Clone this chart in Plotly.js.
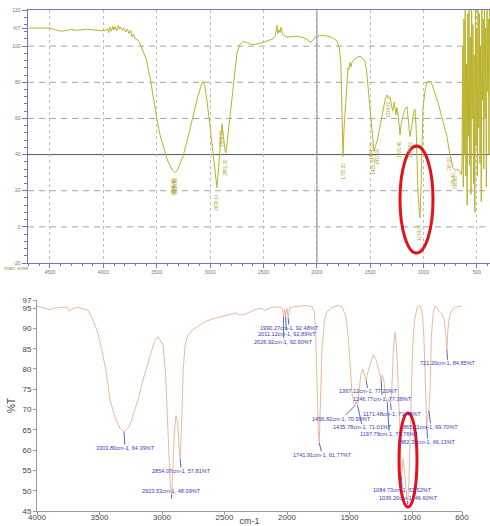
<!DOCTYPE html>
<html><head><meta charset="utf-8">
<script src="https://cdn.plot.ly/plotly-3.0.1.min.js"></script>
<style>html,body{margin:0;padding:0;background:#fff}#chart{width:490px;height:526px}</style>
</head><body><div id="chart"></div>
<script>
// ---- Top spectrum (instrument screenshot) ----
const topWn = [4700,4600,4500,4450,4400,4350,4300,4250,4200,4150,4100,4050,4000,3980,3960,3950,3940,3925,3910,3900,3890,3875,3860,3850,3840,3820,3810,3790,3775,3760,3745,3730,3720,3700,3680,3660,3640,3620,3600,3560,3530,3500,3470,3440,3400,3360,3340,3329,3310,3280,3254,3210,3170,3120,3080,3067,3050,3030,3001,2970,2950,2936,2920,2905,2889,2875,2860,2851,2840,2814,2780,2748,2720,2692,2650,2620,2580,2540,2505,2460,2411,2390,2374,2365,2355,2345,2335,2320,2280,2230,2186,2130,2083,2064,2040,2008,1975,1943,1900,1860,1812,1790,1775,1765,1755,1745,1727,1715,1708,1700,1690,1680,1671,1660,1640,1620,1596,1570,1550,1535,1521,1500,1484,1465,1450,1437,1420,1405,1390,1375,1360,1343,1330,1315,1300,1290,1275,1260,1250,1235,1221,1210,1193,1175,1156,1145,1128,1110,1095,1081,1070,1062,1053,1040,1034,1025,1015,1006,990,969,950,931,900,865,830,800,781,760,740,725,700,680,659,645,640,634,628,622,616,610,604,598,592,586,580,574,568,562,556,550,544,538,532,526,520,514,508,502,496,490,484,478,472,466,460,454,448,442,436,430,424,418,412,406,400,394,388,382];
const topT  = [110,110.2,110,109,108.3,108.6,109.2,108.8,109.2,109.4,109,108.6,108.5,108.8,109.6,107.5,110.5,108.2,111,109,110.8,108.4,111.5,109.4,110.6,108.6,110,107.8,109.5,107,108.8,105,106.5,104,103.5,102,99,96,93,82,70,60,51,44.5,37,32,30.5,30,31,35,39,49,59.4,71,79,80.5,78,70,55.6,38,27,21.7,33,48,57,50,42,41,47,59,80,96.5,101,102.5,102,101,101,101.5,102,103,104,105.5,111.5,107,109,107.6,110.5,106.5,105,105.3,105.5,104.8,103.5,102,103,105.5,105.8,106,105.5,104.8,103,99,90,70,39,55,74,86,88,87,91,88.5,91,92,93,94,94.4,93.3,92,87,78,64,50,41.7,45,47,52,57,61,67,70.5,73,71,72,67,64,69,62,66,60,51,57,61.5,65,66.5,60,50,56,63,65,55,38,19.4,8,5,20,45,65,74,80,80.5,80.5,75,68.8,61,54,50,42,36,32.8,31,32,30,29,35,100,22,115,40,122,28,90,12,118,50,125,34,105,18,122,60,112,24,95,8,124,45,110,28,122,55,118,35,100,14,124,70,115,32,125,60,110,22,125,75,115,40,125];
const topTickWn = [4500,4000,3500,3000,2500,2000,1500,1000,500];
const topPeakWn = [3340.6,3329.4,3318.2,2936.1,2889.5,2851.3,1755.2,1484.7,1465.3,1437.9,1334.6,1221.4,1128.5,1034.0,760.2,725.4,700.8];
const topPeakT  = [30.5,30,30.5,21.7,57,41,39,50,41.7,47,73,51,50,5,42,32.8,31];

// ---- Bottom spectrum (FTIR software plot) ----
const botWn = [4000,3960,3900,3860,3800,3760,3740,3720,3680,3640,3592,3552,3520,3496,3450,3416,3376,3336,3303.8,3256,3216,3192,3150,3112,3060,3032,3010,2992,2970,2950,2935,2923.53,2912,2900,2888,2875,2862,2854.07,2845,2830,2815,2790,2750,2700,2650,2600,2550,2500,2450,2410,2380,2350,2300,2250,2200,2180,2160,2120,2080,2050,2035,2026.92,2020,2011.12,2000,1990.27,1980,1950,1900,1850,1800,1780,1770,1760,1750,1741.91,1733,1720,1700,1680,1650,1600,1560,1530,1510,1495,1480,1465,1456.82,1445,1435.78,1425,1410,1395,1380,1367.12,1355,1330,1310,1290,1270,1255,1246.77,1238,1225,1210,1197.79,1185,1171.48,1160,1150,1136,1125,1110,1100,1084.73,1070,1055,1036.2,1025,1010,995,980,960,945,930,915,905,895,882.35,875,865.11,855,845,830,815,800,780,760,745,730,721.2,712,700,680,650,620,600];
const botT  = [95.5,95.2,94.6,95,95.1,95.3,94.3,94.8,95.2,94.9,94.5,92,89.6,86.7,80,72.4,68.2,65.4,64.39,66.2,69.9,72.4,77.5,81.5,86.8,87.9,87,86,78,62,52,48.09,55,65,68.5,67,60,57.81,65,80,86,88.5,89.8,90.8,91.7,92.3,92.7,93.1,93.5,93.8,93.4,93.3,94,94.7,95,94.4,94.6,95.3,95.2,95.3,94.6,92.9,94.8,92.89,94.9,92.48,95,95.3,95.5,95.6,95.4,94,88,75,65,61.77,70,85,92,94,95,95.6,95.4,93,88,80,74,71.5,70.95,72,71.01,74,78.5,80,78.5,77.2,79,81.5,83.5,82.5,80,78,77.38,78.5,77,73,71.76,72.5,71.48,76,84,89,86,76,66,53.52,58,52,46.6,52,70,85,92,95,95.6,95.4,93,88,78,66.13,68,69.7,75,88,94,95.5,95.2,94,93.5,92.5,89,84.85,90,93,94.5,95.2,95.5,95.3];
const botTickWn = [4000,3500,3000,2500,2000,1500,1000,600];
const botTickT = [45,50,55,60,65,70,75,80,85,90,95,97];
const peakWn = [3303.80,2854.07,2923.53,1741.91,1456.82,1435.78,1367.12,1246.77,1171.48,1197.79,1084.73,1036.20,882.35,865.11,721.20,1990.27,2011.12,2026.92];
const peakT  = [64.39,57.81,48.09,61.77,70.95,71.01,77.20,77.38,71.48,71.76,53.52,46.60,66.13,69.70,84.85,92.48,92.89,92.90];

// label offsets in pixels (layout only)
const peakOffsets = [[1,16],[1,12],[0,-7],[3,12],[-13,13],[5,22],[2,11],[1,19],[1,10],[2,32],[1,14],[1,-7],[1,17],[2,16],[1,14],[1,10],[1,17],[0,25]];

const olive = '#bab22c';
const axisPurple = '#7676b6';

const traces = [
  {x: topWn, y: topT, xaxis:'x', yaxis:'y', type:'scatter', mode:'lines',
   line:{color: olive, width:1}, hoverinfo:'skip', showlegend:false},
  {x: botWn, y: botT, xaxis:'x2', yaxis:'y2', type:'scatter', mode:'lines',
   line:{color:'#e9b9a2', width:1}, hoverinfo:'skip', showlegend:false}
];

const shapes = [];
[100,80,60,20,0].forEach(v => shapes.push({type:'line', xref:'x domain', yref:'y', x0:0, x1:1, y0:v, y1:v,
  line:{color:'#a4a4a4', width:1, dash:'6px,5px'}, layer:'below'}));
shapes.push({type:'line', xref:'x domain', yref:'y', x0:0, x1:1, y0:40, y1:40, line:{color:'#555', width:1}, layer:'below'});
shapes.push({type:'line', xref:'x', yref:'y domain', x0:2000, x1:2000, y0:0, y1:1, line:{color:'#8080a8', width:1.2}, layer:'below'});
// red ellipses
shapes.push({type:'circle', xref:'paper', yref:'paper', x0:400/490, x1:433/490, y0:1-253/526, y1:1-146/526, line:{color:'#e3121a', width:3}});
shapes.push({type:'circle', xref:'paper', yref:'paper', x0:399/490, x1:417/490, y0:1-507/526, y1:1-413/526, line:{color:'#e3121a', width:3}});

const annotations = peakWn.map((w,i) => ({
  x: w, y: peakT[i], xref:'x2', yref:'y2',
  text: w.toFixed(2) + 'cm-1, ' + peakT[i].toFixed(2) + '%T',
  showarrow:true, arrowhead:0, arrowwidth:1, arrowcolor:'#5666c8', standoff:0,
  ax: peakOffsets[i][0], ay: peakOffsets[i][1], borderpad:0,
  font:{family:'Liberation Sans, Arial, sans-serif', size:5.6, color:'#3a3ab4'}
}));
topPeakWn.forEach((w,i) => annotations.push({
  x: w, y: topPeakT[i] - 2, xref:'x', yref:'y', text: w.toFixed(2), showarrow:false,
  textangle:-90, yanchor:'top', font:{family:'Liberation Sans, Arial', size:4.5, color:'#a9a12a'}
}));
annotations.push({x:2/490, y:1-268/526, xref:'paper', yref:'paper', xanchor:'left', yanchor:'middle',
  text:'main: ester', showarrow:false, font:{family:'Liberation Sans, Arial', size:5, color:'#9a9a4a'}});

const layout = {
  width:490, height:526, autosize:false,
  margin:{l:0, r:0, t:0, b:0, pad:0},
  paper_bgcolor:'#fff', plot_bgcolor:'#fff',
  showlegend:false,
  font:{family:'Liberation Sans, Arial, sans-serif'},
  xaxis:{domain:[28/490, 1], range:[4706, 378], anchor:'y',
    showline:true, linecolor:axisPurple, linewidth:1, mirror:true,
    tickmode:'array', tickvals: topTickWn, ticks:'outside', ticklen:4, tickcolor:axisPurple,
    tickfont:{size:5, color:'#777'},
    showgrid:true, gridcolor:'#bdbdbd', griddash:'dot', gridwidth:1, zeroline:false,
    minor:{tickmode:'linear', tick0:0, dtick:100, ticks:'outside', ticklen:2, tickcolor:axisPurple, showgrid:false}},
  yaxis:{domain:[1-263/526, 1-10/526], range:[-20, 120], anchor:'x',
    showline:true, linecolor:axisPurple, linewidth:1.5,
    tickmode:'array', tickvals:[-20,0,20,40,60,80,100,110,120], ticktext:['-20','0','20','40','60','80','100','%T','120'],
    ticks:'outside', ticklen:5, tickcolor:axisPurple, tickfont:{size:5, color:'#777'},
    showgrid:false, zeroline:false,
    minor:{tickmode:'linear', tick0:0, dtick:4, ticks:'outside', ticklen:3, tickcolor:axisPurple, showgrid:false}},
  xaxis2:{domain:[37/490, 462/490], range:[4000, 600], anchor:'y2',
    showline:true, linecolor:'#9a9a9a', linewidth:1,
    tickmode:'array', tickvals: botTickWn, ticks:'outside', ticklen:3, tickcolor:'#9a9a9a',
    ticklabelstandoff:-5,
    tickfont:{size:8, color:'#444'}, showgrid:false, zeroline:false,
    title:{text:'cm-1', font:{size:9, color:'#444'}, standoff:4}},
  yaxis2:{domain:[1-511/526, 1-300/526], range:[45, 97], anchor:'x2',
    showline:true, linecolor:'#9a9a9a', linewidth:1,
    tickmode:'array', tickvals: botTickT, ticks:'outside', ticklen:3, tickcolor:'#9a9a9a',
    tickfont:{size:8, color:'#444'}, showgrid:false, zeroline:false,
    title:{text:'%T', font:{size:10, color:'#444'}, standoff:4}},
  shapes: shapes,
  annotations: annotations
};

Plotly.newPlot('chart', traces, layout, {staticPlot:true, displayModeBar:false});
</script>
</body></html>
